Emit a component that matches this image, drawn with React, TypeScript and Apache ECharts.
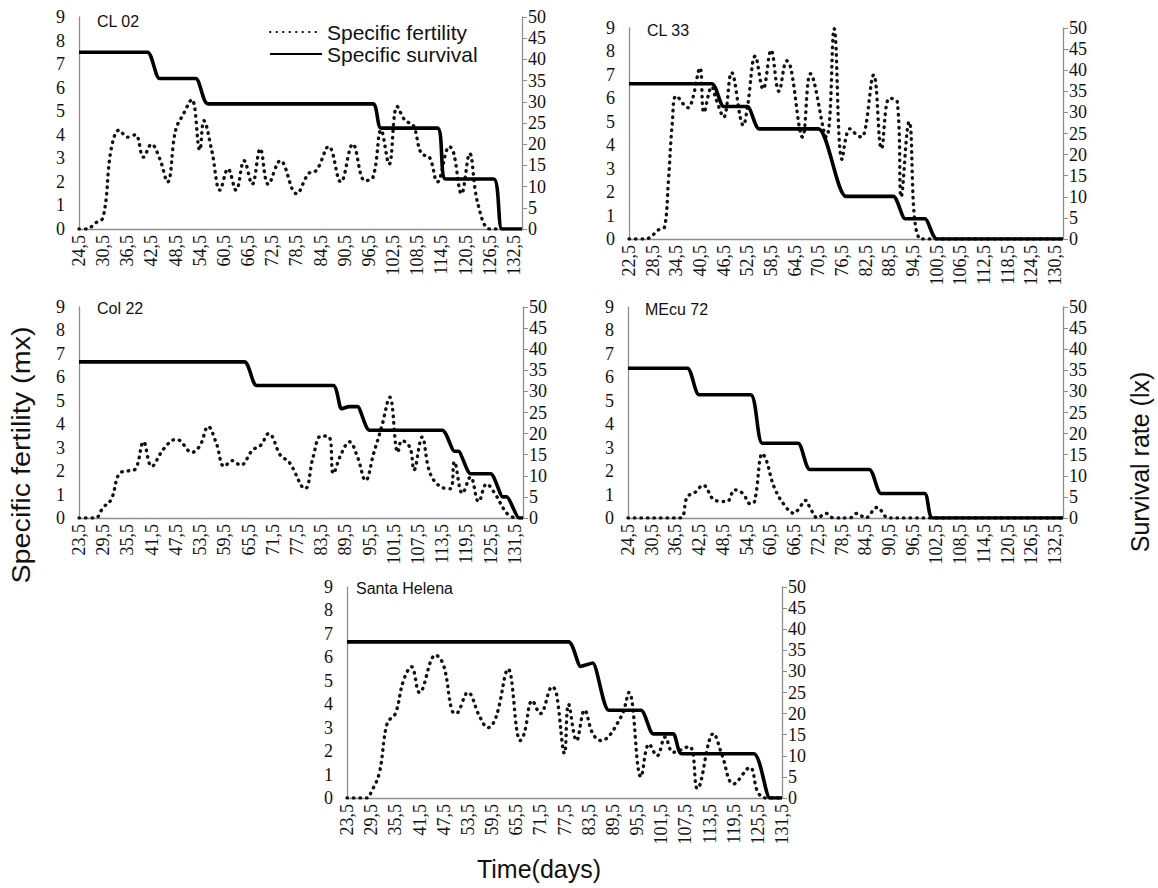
import React, { useEffect, useRef } from "react";
import * as echarts from "echarts";

const panelNames = ["CL 02", "CL 33", "Col 22", "MEcu 72", "Santa Helena"];
const firstDays = [24.5, 22.5, 23.5, 24.5, 23.5];
const dayCounts = [111, 111, 111, 111, 109];
const seriesNames = ["Specific fertility", "Specific survival"];

const cl02Fertility: number[][] = [
  [24.5, 0], [26.5, 0], [28.5, 0.25], [30.5, 0.5], [32.5, 3.4], [34.5, 4.2], [36.5, 3.9], [38.5, 4.0],
  [40.5, 3.05], [42.5, 3.6], [44.5, 3.0], [46.5, 2.0], [48.5, 4.2], [50.5, 4.9], [52.5, 5.5], [54.5, 3.35],
  [55.5, 4.6], [57.5, 3.3], [59.5, 1.65], [61.5, 2.55], [63.5, 1.65], [65.5, 2.9], [67.5, 1.9], [69.5, 3.4],
  [71.5, 1.9], [74.5, 2.9], [78.5, 1.5], [81.5, 2.35], [83.5, 2.5], [86.5, 3.5], [89.5, 2.0], [92.5, 3.6],
  [95.5, 2.05], [97.5, 2.2], [99.5, 4.2], [101.5, 2.75], [103.5, 5.2], [105.5, 4.6], [107.5, 4.4], [109.5, 3.2],
  [111.5, 3.05], [113.5, 2.0], [116.5, 3.5], [117.5, 3.25], [119.5, 1.5], [121.5, 3.2], [123.5, 1.1],
  [126.5, 0], [128.5, 0],
];
const cl02Survival: number[][] = [
  [24.5, 41.7], [41.5, 41.7], [44.5, 35.5], [53.5, 35.5], [56.5, 29.5], [97.5, 29.5], [99.5, 23.8],
  [113.5, 23.8], [115.5, 11.8], [127.5, 11.8], [129.5, 0], [134.5, 0],
];

const cl33Fertility: number[][] = [
  [22.5, 0], [26.5, 0], [30.5, 0.45], [31.5, 0.5], [32.5, 2.5], [33.5, 5.0], [34.5, 6.1], [37.5, 5.6],
  [38.5, 5.9], [40.5, 7.3], [41.5, 5.4], [43.5, 6.5], [44.5, 6.0], [46.5, 5.2], [48.5, 7.1], [51.5, 4.85],
  [52.5, 5.6], [54.5, 7.8], [56.5, 6.4], [58.5, 8.05], [60.5, 6.3], [62.5, 7.6], [63.5, 7.3], [66.5, 4.35],
  [68.5, 7.05], [72.5, 4.35], [74.5, 8.97], [76.5, 3.4], [78.5, 4.7], [80.5, 4.4], [81.5, 4.35], [84.5, 7.0],
  [86.5, 3.85], [88.5, 6.0], [90.5, 5.85], [91.5, 1.8], [93.5, 5.0], [96.5, 0], [132.5, 0],
];
const cl33Survival: number[][] = [
  [22.5, 36.8], [43.5, 36.8], [46.5, 31.4], [52.5, 31.4], [55.5, 26.1], [70.5, 26.1], [77.5, 10.1],
  [89.5, 10.1], [92.5, 4.8], [97.5, 4.8], [100.5, 0], [132.5, 0],
];

const col22Fertility: number[][] = [
  [23.5, 0], [27.5, 0], [29.5, 0.45], [31.5, 0.8], [33.5, 1.9], [35.5, 2.0], [37.5, 2.1], [39.5, 3.25],
  [41.5, 2.2], [44.5, 2.95], [47.5, 3.35], [48.5, 3.3], [51.5, 2.8], [53.5, 3.1], [55.5, 3.9], [57.5, 3.2],
  [59.5, 2.2], [61.5, 2.45], [63.5, 2.25], [66.5, 2.9], [68.5, 3.1], [70.5, 3.6], [73.5, 2.65], [75.5, 2.4],
  [79.5, 1.25], [81.5, 2.6], [83.5, 3.5], [85.5, 3.45], [86.5, 1.9], [88.5, 2.75], [90.5, 3.25], [92.5, 2.6],
  [94.5, 1.6], [96.5, 2.75], [98.5, 3.9], [100.5, 5.15], [102.5, 2.8], [103.5, 3.3], [105.5, 3.0],
  [106.5, 2.05], [108.5, 3.45], [110.5, 1.9], [113.5, 1.3], [115.5, 1.25], [116.5, 2.4], [118.5, 1.05],
  [120.5, 1.75], [122.5, 0.7], [124.5, 1.45], [126.5, 1.05], [129.5, 0.2], [131.5, 0],
];
const col22Survival: number[][] = [
  [23.5, 37.0], [64.5, 37.0], [67.5, 31.4], [86.5, 31.4], [88.5, 25.9], [90.5, 26.4], [92.5, 26.4],
  [95.5, 20.8], [113.5, 20.8], [116.5, 15.8], [117.5, 15.8], [120.5, 10.5], [125.5, 10.5], [128.5, 5.0],
  [129.5, 5.0], [132.5, 0], [133.5, 0],
];

const mecu72Fertility: number[][] = [
  [24.5, 0], [37.5, 0], [39.5, 0.9], [41.5, 1.1], [43.5, 1.4], [46.5, 0.75], [49.5, 0.7], [51.5, 1.2],
  [53.5, 1.05], [55.5, 0.6], [56.5, 0.7], [58.5, 2.75], [59.5, 2.45], [61.5, 1.3], [64.5, 0.45], [66.5, 0.2],
  [67.5, 0.35], [69.5, 0.75], [70.5, 0.45], [72.5, 0], [74.5, 0.2], [76.5, 0], [80.5, 0], [82.5, 0.2],
  [84.5, 0], [87.5, 0.45], [90.5, 0], [134.5, 0],
];
const mecu72Survival: number[][] = [
  [24.5, 35.5], [39.5, 35.5], [42.5, 29.2], [55.5, 29.2], [58.5, 17.7], [67.5, 17.7], [70.5, 11.5],
  [85.5, 11.5], [88.5, 5.8], [99.5, 5.8], [101.5, 0], [134.5, 0],
];

const santaHelenaFertility: number[][] = [
  [23.5, 0], [28.5, 0], [29.5, 0.25], [31.5, 1.05], [33.5, 3.2], [35.5, 3.6], [37.5, 5.0], [39.5, 5.6],
  [41.5, 4.5], [45.5, 6.1], [47.5, 5.65], [49.5, 3.75], [50.5, 3.6], [53.5, 4.5], [56.5, 3.45], [58.5, 3.0],
  [60.5, 3.45], [63.5, 5.5], [66.5, 2.45], [67.5, 2.75], [69.5, 4.15], [71.5, 3.6], [74.5, 4.75],
  [75.5, 4.45], [77.5, 1.9], [78.5, 4.0], [80.5, 2.45], [82.5, 3.75], [84.5, 2.75], [86.5, 2.45],
  [91.5, 3.45], [93.5, 4.5], [96.5, 0.9], [98.5, 2.3], [100.5, 1.8], [102.5, 2.6], [104.5, 1.95],
  [108.5, 2.2], [110.5, 0.4], [114.5, 2.75], [116.5, 1.9], [119.5, 0.6], [123.5, 1.3], [125.5, 0.25],
  [127.5, 0], [131.5, 0],
];
const santaHelenaSurvival: number[][] = [
  [23.5, 37.0], [78.5, 37.0], [81.5, 31.2], [84.5, 32.0], [88.5, 20.8], [96.5, 20.8], [99.5, 15.2],
  [104.5, 15.2], [106.5, 10.5], [124.5, 10.5], [128.5, 0], [131.5, 0],
];

const fertilityByPanel = [cl02Fertility, cl33Fertility, col22Fertility, mecu72Fertility, santaHelenaFertility];
const survivalByPanel = [cl02Survival, cl33Survival, col22Survival, mecu72Survival, santaHelenaSurvival];

const gridBoxes = [
  { left: 79, top: 17, width: 443, height: 212 },
  { left: 629, top: 28, width: 434, height: 211 },
  { left: 79, top: 307, width: 444, height: 211 },
  { left: 628, top: 307, width: 435, height: 211 },
  { left: 347, top: 587, width: 435, height: 211 },
];
const titlePos = [
  [97, 21], [647, 30], [97, 308], [645, 309], [356, 588],
];

const fmtDay = (d: number) => d.toFixed(1).replace(".", ",");
const AXIS_GRAY = "#8e8e8e";
const SERIF = "Liberation Serif";
const SANS = "Liberation Sans";

function tickLabel(extra: any) {
  return {
    fontFamily: SERIF,
    fontSize: 18,
    color: "#111",
    formatter: (v: any) => `{t|${v}}`,
    rich: { t: { fontFamily: SERIF, fontSize: 18, color: "#111" } },
    ...extra,
  };
}

function buildOption() {
  const grid: any[] = [];
  const xAxis: any[] = [];
  const yAxis: any[] = [];
  const series: any[] = [];
  const graphic: any[] = [];

  panelNames.forEach((name, i) => {
    const cats = Array.from({ length: dayCounts[i] }, (_, k) => fmtDay(firstDays[i] + k));
    grid.push({ ...gridBoxes[i], containLabel: false });
    xAxis.push({
      type: "category",
      gridIndex: i,
      data: cats,
      boundaryGap: false,
      axisLine: { lineStyle: { color: AXIS_GRAY, width: 1.3 } },
      axisTick: { show: false },
      axisLabel: tickLabel({ interval: 5, rotate: 90, margin: 6 }),
      splitLine: { show: false },
    });
    yAxis.push({
      type: "value",
      gridIndex: i,
      position: "left",
      min: 0,
      max: 9,
      interval: 1,
      axisLine: { show: true, lineStyle: { color: AXIS_GRAY, width: 1.3 } },
      axisTick: { show: false },
      axisLabel: tickLabel({ margin: 14 }),
      splitLine: { show: false },
    });
    yAxis.push({
      type: "value",
      gridIndex: i,
      position: "right",
      min: 0,
      max: 50,
      interval: 5,
      axisLine: { show: true, lineStyle: { color: AXIS_GRAY, width: 1.3 } },
      axisTick: { show: true, length: 5, lineStyle: { color: AXIS_GRAY } },
      axisLabel: tickLabel({ margin: 6 }),
      splitLine: { show: false },
    });
    series.push({
      name: seriesNames[0],
      type: "line",
      xAxisIndex: i,
      yAxisIndex: 2 * i,
      data: fertilityByPanel[i].map(([d, v]) => [fmtDay(d), v]),
      showSymbol: false,
      symbol: "none",
      smooth: 0.4,
      itemStyle: { color: "#111" },
      lineStyle: { color: "#111", width: 3.4, type: [0.5, 6], cap: "round" },
      z: 2,
    });
    series.push({
      name: seriesNames[1],
      type: "line",
      xAxisIndex: i,
      yAxisIndex: 2 * i + 1,
      data: survivalByPanel[i].map(([d, v]) => [fmtDay(d), v]),
      showSymbol: false,
      symbol: "none",
      smooth: 0.2,
      itemStyle: { color: "#000" },
      lineStyle: { color: "#000", width: 3.6 },
      z: 3,
    });
    graphic.push({
      type: "text",
      x: titlePos[i][0],
      y: titlePos[i][1],
      style: { text: name, fontFamily: SANS, fontSize: 16, fill: "#111", verticalAlign: "middle" },
    });
  });

  graphic.push({
    type: "text",
    x: 22,
    y: 455,
    rotation: Math.PI / 2,
    scaleX: 1.15,
    style: {
      text: "Specific fertility (mx)",
      fontFamily: SANS,
      fontSize: 25,
      fill: "#111",
      align: "center",
      verticalAlign: "middle",
    },
  });
  graphic.push({
    type: "text",
    x: 1140,
    y: 462,
    rotation: Math.PI / 2,
    style: {
      text: "Survival rate (lx)",
      fontFamily: SANS,
      fontSize: 25,
      fill: "#111",
      align: "center",
      verticalAlign: "middle",
    },
  });
  graphic.push({
    type: "text",
    x: 539,
    y: 869,
    style: {
      text: "Time(days)",
      fontFamily: SANS,
      fontSize: 25,
      fill: "#111",
      align: "center",
      verticalAlign: "middle",
    },
  });

  return {
    animation: false,
    backgroundColor: "#fff",
    legend: {
      data: seriesNames,
      orient: "vertical",
      left: 264,
      top: 16,
      itemWidth: 52,
      itemHeight: 14,
      itemGap: 0,
      selectedMode: false,
      itemStyle: { opacity: 0 },
      textStyle: { fontFamily: SANS, fontSize: 21, color: "#111", lineHeight: 22 },
    },
    grid,
    xAxis,
    yAxis,
    series,
    graphic,
  };
}

export default function App() {
  const ref = useRef<HTMLDivElement>(null);
  useEffect(() => {
    document.body.style.margin = "0";
    if (!ref.current) return;
    const chart = echarts.init(ref.current, undefined, { renderer: "svg" });
    chart.setOption(buildOption() as any);
    return () => chart.dispose();
  }, []);
  return <div ref={ref} style={{ width: 1158, height: 888 }} />;
}
